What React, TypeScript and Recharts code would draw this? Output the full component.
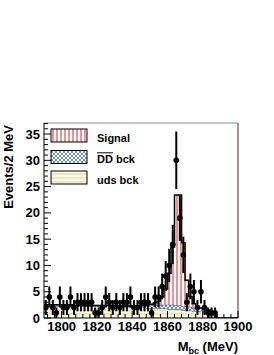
import {
  ComposedChart,
  Area,
  Scatter,
  ErrorBar,
  XAxis,
  YAxis,
  ReferenceLine,
} from "recharts";

// 2 MeV bins from 1790 to 1900, values per bin (centres 1791 ... 1899)
const X_MIN = 1790;
const X_MAX = 1900;
const BIN_WIDTH = 2;
const Y_MAX = 37.1;

const UDS_BCK = [
  2.3, 2.3, 2.3, 2.3, 2.3, 2.3, 2.3, 2.3, 2.2, 2.2,
  2.2, 2.2, 2.2, 2.2, 2.2, 2.2, 2.2, 2.2, 2.2, 2.1,
  2.1, 2.1, 2.1, 2.1, 2.1, 2.0, 2.0, 2.0, 2.0, 1.9,
  1.9, 1.9, 1.8, 1.8, 1.8, 1.7, 1.7, 1.6, 1.6, 1.5,
  1.5, 1.4, 1.3, 1.3, 1.2, 1.1, 1.0, 0.8, 0.4, 0,
  0, 0, 0, 0, 0,
];

const DD_BCK = [
  0.2, 0.2, 0.2, 0.2, 0.2, 0.2, 0.2, 0.2, 0.2, 0.2,
  0.2, 0.2, 0.2, 0.2, 0.2, 0.2, 0.2, 0.2, 0.2, 0.2,
  0.2, 0.2, 0.2, 0.2, 0.2, 0.3, 0.3, 0.4, 0.4, 0.5,
  0.5, 0.6, 0.6, 0.7, 0.7, 0.8, 0.8, 0.8, 0.8, 0.8,
  0.7, 0.7, 0.6, 0.6, 0.6, 0.5, 0.5, 0.4, 0.2, 0,
  0, 0, 0, 0, 0,
];

const SIGNAL = [
  0, 0, 0, 0, 0, 0, 0, 0, 0, 0,
  0, 0, 0, 0, 0, 0, 0, 0, 0, 0,
  0, 0, 0, 0, 0, 0, 0, 0, 0, 0.1,
  0.2, 0.4, 0.8, 1.5, 3, 6, 11, 21, 21, 12,
  5, 2, 0.8, 0.3, 0.1, 0, 0, 0, 0, 0,
  0, 0, 0, 0, 0,
];

const DATA_COUNTS: (number | null)[] = [
  2, 4, 2, 1, 4, 2, 2, 4, 2, 3,
  3, 3, 3, 3, 1, 1, 2, 4, 3, 2,
  3, 2, 3, 3, 4, 2, 2, 3, 3, 3,
  1, 4, 4, 6, 8, 10, 14, 30, 19, 12,
  3, 6, 5, 2, 5, 2, 1, 1, 1, null,
  null, null, null, null, null,
];

const X_TICKS_MAJOR = [1800, 1820, 1840, 1860, 1880, 1900];
const Y_TICKS_MAJOR = [0, 5, 10, 15, 20, 25, 30, 35];
const X_TICKS = Array.from({ length: 28 }, (_, i) => 1792 + i * 4);
const Y_TICKS = Array.from({ length: 38 }, (_, i) => i);

const PLOT_LEFT = 44;
const PLOT_BOTTOM = 318;
const FONT = "'Liberation Sans', Arial, Helvetica, sans-serif";

// step histogram: one point per bin left edge, plus closing edge
const histData = UDS_BCK.map((_, i) => ({
  x: X_MIN + i * BIN_WIDTH,
  uds: UDS_BCK[i],
  dd: DD_BCK[i],
  sig: SIGNAL[i],
}));
histData.push({
  x: X_MAX,
  uds: UDS_BCK[UDS_BCK.length - 1],
  dd: DD_BCK[DD_BCK.length - 1],
  sig: SIGNAL[SIGNAL.length - 1],
});

const points = DATA_COUNTS.map((n, i) => ({
  x: X_MIN + i * BIN_WIDTH + BIN_WIDTH / 2,
  y: n,
  err: n == null ? 0 : Math.sqrt(n),
})).filter((p) => p.y != null);

function YTick({ y, payload }: any) {
  const major = Y_TICKS_MAJOR.includes(payload.value);
  return (
    <g>
      <line x1={PLOT_LEFT} x2={PLOT_LEFT + (major ? 7 : 4)} y1={y} y2={y} stroke="#000" />
      {major && (
        <text
          x={40}
          y={y + 4.6}
          textAnchor="end"
          fontSize={13}
          fontWeight="bold"
          fontFamily={FONT}
          fill="#000"
        >
          {payload.value}
        </text>
      )}
    </g>
  );
}

function XTick({ x, payload }: any) {
  const major = X_TICKS_MAJOR.includes(payload.value);
  return (
    <g>
      <line x1={x} x2={x} y1={PLOT_BOTTOM} y2={PLOT_BOTTOM - (major ? 7 : 4)} stroke="#000" />
      {major && (
        <text
          x={x}
          y={331}
          textAnchor="middle"
          fontSize={13}
          fontWeight="bold"
          fontFamily={FONT}
          fill="#000"
        >
          {payload.value}
        </text>
      )}
    </g>
  );
}

const Dot = (props: any) => <circle cx={props.cx} cy={props.cy} r={2.8} fill="#000" />;

const legendItems = [
  { fill: "url(#sigPat)", y: 129 },
  { fill: "url(#ddPat)", y: 150.5 },
  { fill: "url(#udsPat)", y: 171 },
];

export default function App() {
  return (
    <div style={{ position: "absolute", left: 0, top: 0, width: 274, height: 355, background: "#fff" }}>
      <ComposedChart
        width={274}
        height={355}
        data={histData}
        margin={{ top: 123, right: 36, bottom: 0, left: 0 }}
      >
        <defs>
          <pattern id="sigPat" width="4" height="4" patternUnits="userSpaceOnUse">
            <rect width="4" height="4" fill="#fff" />
            <line x1="1" y1="0" x2="1" y2="4" stroke="#e05a5a" strokeWidth="1.3" />
          </pattern>
          <pattern id="ddPat" width="4" height="4" patternUnits="userSpaceOnUse">
            <rect width="4" height="4" fill="#fff" />
            <path d="M0,0 L4,4 M4,0 L0,4" stroke="#5b7fd6" strokeWidth="0.9" />
          </pattern>
          <pattern id="udsPat" width="4" height="4" patternUnits="userSpaceOnUse">
            <rect width="4" height="4" fill="#fdfbe8" />
            <line x1="0" y1="2" x2="4" y2="2" stroke="#d9d49a" strokeWidth="1" />
          </pattern>
        </defs>
        <XAxis
          dataKey="x"
          type="number"
          domain={[X_MIN, X_MAX]}
          ticks={X_TICKS}
          interval={0}
          height={37}
          tickLine={false}
          tickSize={0}
          tick={<XTick />}
          axisLine={{ stroke: "#000" }}
          allowDataOverflow
        />
        <YAxis
          type="number"
          domain={[0, Y_MAX]}
          ticks={Y_TICKS}
          interval={0}
          width={44}
          tickLine={false}
          tickSize={0}
          tick={<YTick />}
          axisLine={{ stroke: "#000" }}
          allowDataOverflow
        />
        <Area
          type="stepAfter"
          dataKey="uds"
          stackId="h"
          fill="url(#udsPat)"
          fillOpacity={1}
          stroke="#444"
          strokeWidth={1}
          dot={false}
          activeDot={false}
          isAnimationActive={false}
        />
        <Area
          type="stepAfter"
          dataKey="dd"
          stackId="h"
          fill="url(#ddPat)"
          fillOpacity={1}
          stroke="#1f3a93"
          strokeWidth={1}
          dot={false}
          activeDot={false}
          isAnimationActive={false}
        />
        <Area
          type="stepAfter"
          dataKey="sig"
          stackId="h"
          fill="url(#sigPat)"
          fillOpacity={1}
          stroke="#000"
          strokeWidth={1.5}
          dot={false}
          activeDot={false}
          isAnimationActive={false}
        />
        <Scatter data={points} dataKey="y" shape={Dot} isAnimationActive={false}>
          <ErrorBar dataKey="err" direction="y" width={0} stroke="#000" strokeWidth={2} />
        </Scatter>
        <ReferenceLine y={Y_MAX} stroke="#9a8c8c" strokeWidth={1} />
        <ReferenceLine x={X_MAX} stroke="#7d1c1c" strokeWidth={1} />

        {legendItems.map((it) => (
          <rect key={it.y} x={51} y={it.y} width={36} height={13} fill={it.fill} stroke="#000" strokeWidth={1} />
        ))}
        <g fontFamily={FONT} fontWeight="bold" fontSize={11} fill="#000">
          <text x={97} y={141.5}>Signal</text>
          <text x={97} y={162.5}>DD bck</text>
          <text x={97} y={183.5}>uds bck</text>
        </g>
        <line x1={97} x2={113} y1={152.8} y2={152.8} stroke="#000" strokeWidth={1} />
        <text
          transform="rotate(-90)"
          x={-125}
          y={13}
          textAnchor="end"
          fontFamily={FONT}
          fontWeight="bold"
          fontSize={13}
          fill="#000"
        >
          Events/2 MeV
        </text>
        <text x={238} y={351} textAnchor="end" fontFamily={FONT} fontWeight="bold" fontSize={13} fill="#000">
          M<tspan fontSize={9} dy={3}>bc</tspan>
          <tspan dy={-3}> (MeV)</tspan>
        </text>
      </ComposedChart>
    </div>
  );
}
